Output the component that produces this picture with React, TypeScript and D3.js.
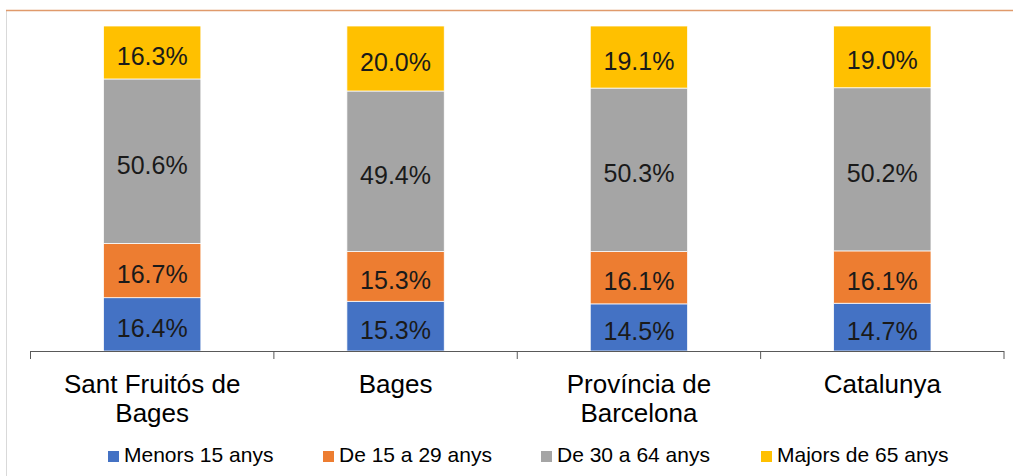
import React from "react";
import * as d3 from "d3";

const categories: string[][] = [
  ["Sant Fruitós de", "Bages"],
  ["Bages"],
  ["Província de", "Barcelona"],
  ["Catalunya"],
];
const seriesNames = ["Menors 15 anys", "De 15 a 29 anys", "De 30 a 64 anys", "Majors de 65 anys"];
const seriesColors = ["#4472C4", "#ED7D31", "#A5A5A5", "#FFC000"];
const menors15 = [16.4, 15.3, 14.5, 14.7];
const de15a29 = [16.7, 15.3, 16.1, 16.1];
const de30a64 = [50.6, 49.4, 50.3, 50.2];
const majors65 = [16.3, 20.0, 19.1, 19.0];
const legendX = [108, 323, 541, 761];

const W = 1013;
const H = 476;
const FONT = "'Liberation Sans', Arial, sans-serif";

export default function App() {
  const series = [menors15, de15a29, de30a64, majors65];
  const idx = categories.map((_, i) => String(i));
  const x = d3.scaleBand<string>().domain(idx).range([30.5, 1004]).paddingInner(0.6).paddingOuter(0.3);
  const y = d3.scaleLinear().domain([0, 100]).range([351, 26]);
  const step = x.step();
  const axisStart = 30.5;
  const ticks = d3.range(categories.length + 1).map((i) => axisStart + i * step);

  const segs: { ci: number; si: number; y0: number; y1: number; v: number }[] = [];
  categories.forEach((_, ci) => {
    let acc = 0;
    series.forEach((s, si) => {
      segs.push({ ci, si, y0: acc, y1: acc + s[ci], v: s[ci] });
      acc += s[ci];
    });
  });

  return (
    <svg width={W} height={H} style={{ position: "absolute", left: 0, top: 0, display: "block" }} fontFamily={FONT}>
      <rect x={0} y={0} width={W} height={H} fill="#fff" />
      <line x1={6.5} y1={11} x2={6.5} y2={H} stroke="#D9D9D9" strokeWidth={1} />
      <line x1={6} y1={10.5} x2={W} y2={10.5} stroke="#E09A6B" strokeWidth={1.5} />
      {segs.map((d, i) => (
        <g key={i}>
          <rect
            x={x(String(d.ci))}
            y={y(d.y1)}
            width={x.bandwidth()}
            height={y(d.y0) - y(d.y1)}
            fill={seriesColors[d.si]}
            stroke="#fff"
            strokeWidth={0.75}
          />
          <text
            x={(x(String(d.ci)) as number) + x.bandwidth() / 2}
            y={(y(d.y0) + y(d.y1)) / 2}
            dy="0.5em"
            textAnchor="middle"
            fontSize={25}
            fill="#1a1a1a"
          >
            {d.v.toFixed(1)}%
          </text>
        </g>
      ))}
      <line x1={axisStart} y1={351.5} x2={ticks[ticks.length - 1]} y2={351.5} stroke="#595959" strokeWidth={1} />
      {ticks.map((t, i) => (
        <line key={i} x1={t} y1={351} x2={t} y2={359} stroke="#595959" strokeWidth={1} />
      ))}
      {categories.map((lines, ci) => (
        <text
          key={ci}
          x={(x(String(ci)) as number) + x.bandwidth() / 2}
          y={393}
          textAnchor="middle"
          fontSize={26}
          fill="#000"
        >
          {lines.map((l, li) => (
            <tspan key={li} x={(x(String(ci)) as number) + x.bandwidth() / 2} dy={li === 0 ? 0 : 29}>
              {l}
            </tspan>
          ))}
        </text>
      ))}
      {seriesNames.map((n, i) => (
        <g key={i}>
          <rect x={legendX[i]} y={451} width={11} height={11} fill={seriesColors[i]} />
          <text x={legendX[i] + 16} y={462} fontSize={21} fill="#000">
            {n}
          </text>
        </g>
      ))}
    </svg>
  );
}
